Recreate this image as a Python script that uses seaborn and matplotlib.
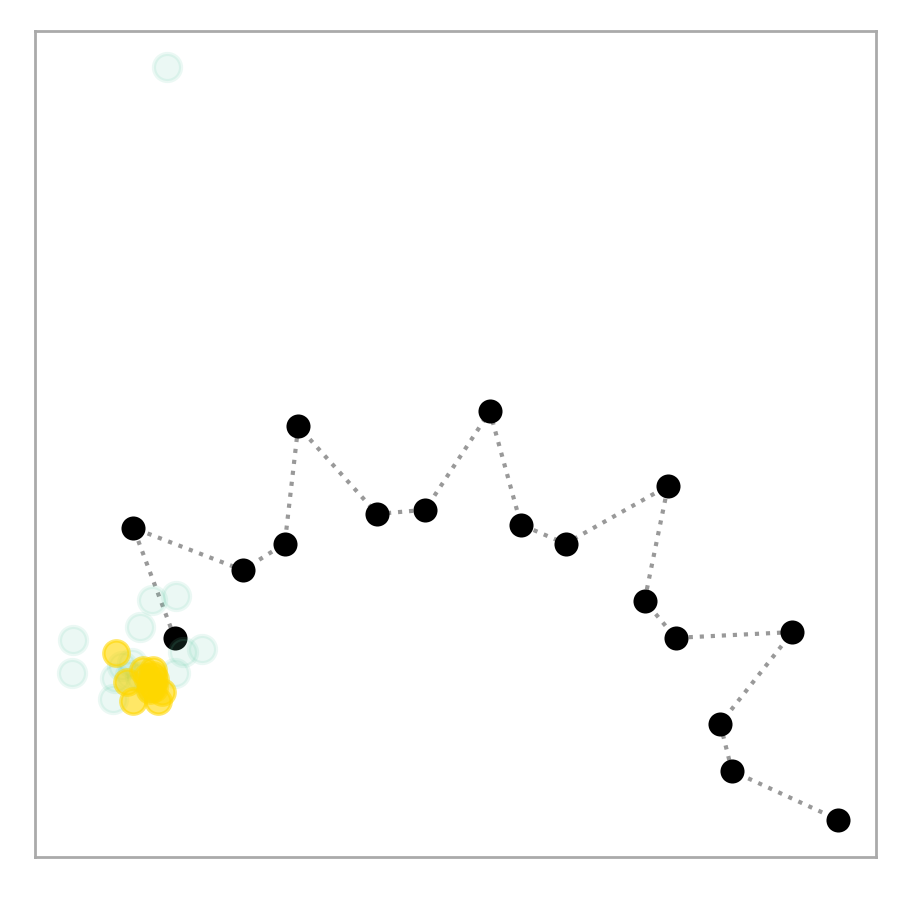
import numpy as np
import pandas as pd
import matplotlib
matplotlib.use("Agg")
import matplotlib.pyplot as plt
import seaborn as sns

# path of black points (in drawing order)
path_x = [16.6, 11.7, 24.7, 29.7, 31.3, 40.7, 46.4, 54.1, 57.8, 63.1,
          75.3, 72.5, 76.2, 90.1, 81.5, 82.9, 95.5]
path_y = [26.5, 39.8, 34.7, 37.9, 52.1, 41.5, 42.0, 53.9, 40.2, 37.9,
          44.9, 31.0, 26.5, 27.2, 16.1, 10.4, 4.5]

# faint teal points
teal_x = [13.9, 16.8, 12.5, 4.5, 4.4, 19.8, 17.6, 16.6, 9.5, 9.3,
          10.3, 11.3, 12.5, 15.7, 13.5, 11.5]
teal_y = [31.1, 31.6, 27.8, 26.3, 22.3, 25.2, 24.8, 22.3, 21.6, 19.1,
          23.1, 22.0, 21.8, 95.6, 20.5, 23.5]

# yellow points
gold_x = [9.6, 10.9, 11.6, 12.8, 14.0, 13.9, 13.7, 15.1, 14.6, 13.3,
          14.0, 14.3, 13.8, 14.2]
gold_y = [24.7, 21.1, 18.8, 22.6, 22.6, 21.1, 20.2, 19.9, 18.8, 21.8,
          22.0, 21.5, 20.7, 20.4]

path = pd.DataFrame({"x": path_x, "y": path_y})
teal = pd.DataFrame({"x": teal_x, "y": teal_y})
gold = pd.DataFrame({"x": gold_x, "y": gold_y})

sns.set_style("white")
fig, ax = plt.subplots(figsize=(9, 9), dpi=100)
fig.subplots_adjust(left=0.039, right=0.973, bottom=0.048, top=0.966)

sns.lineplot(data=path, x="x", y="y", sort=False, ax=ax, color="#999999",
             linestyle=":", linewidth=3, zorder=1)
sns.scatterplot(data=path, x="x", y="y", ax=ax, color="black", s=300,
                edgecolor="black", linewidth=0, zorder=2)
sns.scatterplot(data=teal, x="x", y="y", ax=ax, color="mediumaquamarine",
                edgecolor="mediumaquamarine", s=380, linewidth=3, alpha=0.13,
                zorder=3)
sns.scatterplot(data=gold, x="x", y="y", ax=ax, color="gold",
                edgecolor="gold", s=330, linewidth=2.5, alpha=0.6, zorder=4)

ax.set_xlim(0, 100)
ax.set_ylim(0, 100)
ax.set_xticks([])
ax.set_yticks([])
ax.set_xlabel("")
ax.set_ylabel("")
for sp in ax.spines.values():
    sp.set_color("#aaaaaa")
    sp.set_linewidth(2)

fig.savefig("out.png", dpi=100)
